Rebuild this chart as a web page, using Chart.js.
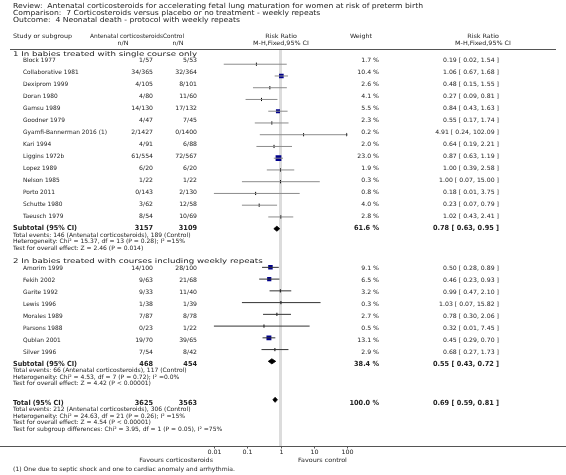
<!DOCTYPE html>
<html>
<head>
<meta charset="utf-8">
<script src="https://cdn.jsdelivr.net/npm/chart.js@4.4.0/dist/chart.umd.min.js"></script>
<style>
html, body { margin: 0; padding: 0; background: #fff; }
canvas { display: block; }
</style>
</head>
<body>
<canvas id="forest" width="566" height="475"></canvas>
<script>
// --- data ---
const g1Names = ['Block 1977', 'Collaborative 1981', 'Dexiprom 1999', 'Doran 1980', 'Gamsu 1989', 'Goodner 1979',
    'Gyamfi-Bannerman 2016 (1)', 'Kari 1994', 'Liggins 1972b', 'Lopez 1989', 'Nelson 1985', 'Porto 2011',
    'Schutte 1980', 'Taeusch 1979'];
const g1EvT = [1, 34, 4, 4, 14, 4, 2, 4, 61, 6, 1, 0, 3, 8];
const g1TotT = [57, 365, 105, 80, 130, 47, 1427, 91, 554, 20, 22, 143, 62, 54];
const g1EvC = [5, 32, 8, 11, 17, 7, 0, 6, 72, 6, 1, 2, 12, 10];
const g1TotC = [53, 364, 101, 60, 132, 45, 1400, 88, 567, 20, 22, 130, 58, 69];
const g1Weight = [1.7, 10.4, 2.6, 4.1, 5.5, 2.3, 0.2, 2.0, 23.0, 1.9, 0.3, 0.8, 4.0, 2.8];
const g1RR = [0.19, 1.06, 0.48, 0.27, 0.84, 0.55, 4.91, 0.64, 0.87, 1.00, 1.00, 0.18, 0.23, 1.02];
const g1Lo = [0.02, 0.67, 0.15, 0.09, 0.43, 0.17, 0.24, 0.19, 0.63, 0.39, 0.07, 0.01, 0.07, 0.43];
const g1Hi = [1.54, 1.68, 1.55, 0.81, 1.63, 1.74, 102.09, 2.21, 1.19, 2.58, 15.00, 3.75, 0.79, 2.41];

const g2Names = ['Amorim 1999', 'Fekih 2002', 'Garite 1992', 'Lewis 1996', 'Morales 1989', 'Parsons 1988',
    'Qublan 2001', 'Silver 1996'];
const g2EvT = [14, 9, 9, 1, 7, 0, 19, 7];
const g2TotT = [100, 63, 33, 38, 87, 23, 70, 54];
const g2EvC = [28, 21, 11, 1, 8, 1, 39, 8];
const g2TotC = [100, 68, 40, 39, 78, 22, 65, 42];
const g2Weight = [9.1, 6.5, 3.2, 0.3, 2.7, 0.5, 13.1, 2.9];
const g2RR = [0.50, 0.46, 0.99, 1.03, 0.78, 0.32, 0.45, 0.68];
const g2Lo = [0.28, 0.23, 0.47, 0.07, 0.30, 0.01, 0.29, 0.27];
const g2Hi = [0.89, 0.93, 2.10, 15.82, 2.06, 7.45, 0.70, 1.73];

// subtotal group 1, subtotal group 2, overall total
const sumTotT = [3157, 468, 3625];
const sumTotC = [3109, 454, 3563];
const sumWeight = [61.6, 38.4, 100.0];
const sumRR = [0.78, 0.55, 0.69];
const sumLo = [0.63, 0.43, 0.59];
const sumHi = [0.95, 0.72, 0.81];

const xTicks = [0.01, 0.1, 1, 10, 100];
const xTickLabels = ['0.01', '0.1', '1', '10', '100'];

const titleLines = [
    'Review:  Antenatal corticosteroids for accelerating fetal lung maturation for women at risk of preterm birth',
    'Comparison:  7 Corticosteroids versus placebo or no treatment - weekly repeats',
    'Outcome:  4 Neonatal death - protocol with weekly repeats'
];
const groupTitles = ['1 In babies treated with single course only', '2 In babies treated with courses including weekly repeats'];
const sumDetails = [
    ['Total events: 146 (Antenatal corticosteroids), 189 (Control)',
     'Heterogeneity: Chi\u00b2 = 15.37, df = 13 (P = 0.28); I\u00b2 =15%',
     'Test for overall effect: Z = 2.46 (P = 0.014)'],
    ['Total events: 66 (Antenatal corticosteroids), 117 (Control)',
     'Heterogeneity: Chi\u00b2 = 4.53, df = 7 (P = 0.72); I\u00b2 =0.0%',
     'Test for overall effect: Z = 4.42 (P < 0.00001)'],
    ['Total events: 212 (Antenatal corticosteroids), 306 (Control)',
     'Heterogeneity: Chi\u00b2 = 24.63, df = 21 (P = 0.26); I\u00b2 =15%',
     'Test for overall effect: Z = 4.54 (P < 0.00001)',
     'Test for subgroup differences: Chi\u00b2 = 3.95, df = 1 (P = 0.05), I\u00b2 =75%']
];
const sumLabels = ['Subtotal (95% CI)', 'Subtotal (95% CI)', 'Total (95% CI)'];
const footnote = '(1) One due to septic shock and one to cardiac anomaly and arrhythmia.';

// --- layout ---
const W = 566, H = 475;
const X_MIN = 0.01, X_MAX = 100;
const PLOT_L = 213.7, PLOT_R = 347.3;
const ROW = 12, LINE = 6.5;
const COL_NAME = 23, COL_LEFT = 13, COL_T = 153, COL_C = 197, COL_W = 379, COL_CI = 499;
const TEXT = '#222';
const FAMILY = '"DejaVu Sans"';

// text styles: font height plus a sample string and its width in the reference;
// glyphs get stretched sideways so the sample comes out that wide
const styles = {
    title:  { font: '7px ' + FAMILY, sample: titleLines[0], width: 410 },
    group:  { font: '6.5px ' + FAMILY, sample: groupTitles[0], width: 184 },
    head:   { font: '6px ' + FAMILY, sample: 'Study or subgroup', width: 59 },
    headT:  { font: '6px ' + FAMILY, sample: 'Antenatal corticosteroids', width: 73 },
    name:   { font: '6px ' + FAMILY, sample: 'Gyamfi-Bannerman 2016 (1)', width: 84 },
    num:    { font: '6px ' + FAMILY, sample: '0.19 [ 0.02, 1.54 ]', width: 56 },
    detail: { font: '6px ' + FAMILY, sample: sumDetails[0][1], width: 172 },
    bold:   { font: 'bold 7px ' + FAMILY, sample: 'Subtotal (95% CI)', width: 64 },
    boldN:  { font: 'bold 7px ' + FAMILY, sample: '0.78 [ 0.63, 0.95 ]', width: 66 },
    foot:   { font: '6px ' + FAMILY, sample: footnote, width: 222 }
};

// y positions of every row (top to bottom)
let cur = 54.5;
const g1HeadY = cur; cur += 6;
const g1Y = g1Names.map(() => { const y = cur; cur += ROW; return y; });
const sumY = [];
sumY.push(cur); cur += 3 * LINE + 13.5;
const g2HeadY = cur; cur += 6.5;
const g2Y = g2Names.map(() => { const y = cur; cur += ROW; return y; });
sumY.push(cur); cur += 3 * LINE + 19.8;
sumY.push(cur);
const axisY = 446;

function fmtCI(rr, lo, hi) {
    return rr.toFixed(2) + ' [ ' + lo.toFixed(2) + ', ' + hi.toFixed(2) + ' ]';
}

// --- datasets ---
const datasets = [];
function addStudies(lo, hi, rr, weight, ys, lineColor) {
    lo.forEach((l, i) => {
        const over = hi[i] > X_MAX;
        datasets.push({
            type: 'line',
            data: [{ x: l, y: ys[i] }, { x: Math.min(hi[i], X_MAX), y: ys[i] }],
            borderColor: lineColor,
            borderWidth: 1,
            pointRadius: [0, over ? 2.2 : 0],
            pointStyle: 'triangle',
            pointRotation: 90,
            pointBackgroundColor: '#333',
            pointBorderWidth: 0
        });
    });
    // big studies get a navy box, tiny ones a short black tick
    const boxes = [], boxSize = [], ticks = [];
    rr.forEach((r, i) => {
        if (weight[i] >= 5) {
            boxes.push({ x: r, y: ys[i] });
            boxSize.push((2.4 + 0.7 * Math.sqrt(weight[i])) / (2 * Math.SQRT1_2));
        } else {
            ticks.push({ x: r, y: ys[i] });
        }
    });
    datasets.push({
        type: 'scatter', data: boxes, pointStyle: 'rect', pointRadius: boxSize,
        pointBackgroundColor: '#00008b', pointBorderWidth: 0
    });
    datasets.push({
        type: 'scatter', data: ticks, pointStyle: 'line', pointRotation: 90, pointRadius: 1.6,
        pointBorderColor: '#000', pointBorderWidth: 1
    });
}
addStudies(g1Lo, g1Hi, g1RR, g1Weight, g1Y, '#8c8c8c');
addStudies(g2Lo, g2Hi, g2RR, g2Weight, g2Y, '#333');

sumRR.forEach((r, i) => {
    const y = sumY[i], h = 2.6;
    datasets.push({
        type: 'line',
        data: [{ x: sumLo[i], y }, { x: r, y: y - h }, { x: sumHi[i], y }, { x: r, y: y + h }, { x: sumLo[i], y }],
        borderColor: '#000', backgroundColor: '#000', borderWidth: 0.8,
        fill: 'shape', pointRadius: 0
    });
});

// --- text, rules and axis drawn around the plot ---
const forestText = {
    id: 'forestText',
    beforeDatasetsDraw(chart) {
        const c = chart.ctx, xs = chart.scales.x;
        c.save();
        c.strokeStyle = '#dcdcdc';
        c.lineWidth = 3;
        const x1 = xs.getPixelForValue(1);
        c.beginPath(); c.moveTo(x1, 49); c.lineTo(x1, axisY); c.stroke();
        c.restore();
    },
    afterDraw(chart) {
        const c = chart.ctx, xs = chart.scales.x;
        c.save();
        // horizontal stretch per style from its sample width
        Object.values(styles).forEach(st => {
            c.font = st.font;
            st.sx = st.width / c.measureText(st.sample).width;
        });
        c.fillStyle = TEXT;
        c.textBaseline = 'middle';
        const t = (s, x, y, align, style) => {
            const st = styles[style];
            c.save();
            c.font = st.font;
            c.textAlign = align || 'left';
            c.translate(x, y);
            c.scale(st.sx, 1);
            c.fillText(s, 0, 0);
            c.restore();
        };

        titleLines.forEach((s, i) => t(s, 13, 6 + i * 7, 'left', 'title'));

        t('Study or subgroup', COL_LEFT, 36, 'left', 'head');
        t('Antenatal corticosteroids', 163, 36, 'right', 'headT');
        t('Control', 163, 36, 'left', 'headT');
        t('n/N', 123, 43, 'center', 'head');
        t('n/N', 178, 43, 'center', 'head');
        t('Risk Ratio', 281, 36, 'center', 'head');
        t('M-H,Fixed,95% CI', 281, 43, 'center', 'head');
        t('Weight', 361, 36, 'center', 'head');
        t('Risk Ratio', 483, 36, 'center', 'head');
        t('M-H,Fixed,95% CI', 483, 43, 'center', 'head');

        c.strokeStyle = '#555';
        c.lineWidth = 1;
        c.beginPath(); c.moveTo(10, 49.5); c.lineTo(556, 49.5); c.stroke();

        const studyRows = (names, evT, totT, evC, totC, wt, rr, lo, hi, ys) => {
            names.forEach((n, i) => {
                const y = ys[i];
                t(n, COL_NAME, y, 'left', 'name');
                t(evT[i] + '/' + totT[i], COL_T, y, 'right', 'num');
                t(evC[i] + '/' + totC[i], COL_C, y, 'right', 'num');
                t(wt[i].toFixed(1) + ' %', COL_W, y, 'right', 'num');
                t(fmtCI(rr[i], lo[i], hi[i]), COL_CI, y, 'right', 'num');
            });
        };
        t(groupTitles[0], COL_LEFT, g1HeadY, 'left', 'group');
        studyRows(g1Names, g1EvT, g1TotT, g1EvC, g1TotC, g1Weight, g1RR, g1Lo, g1Hi, g1Y);
        t(groupTitles[1], COL_LEFT, g2HeadY, 'left', 'group');
        studyRows(g2Names, g2EvT, g2TotT, g2EvC, g2TotC, g2Weight, g2RR, g2Lo, g2Hi, g2Y);

        sumY.forEach((y, i) => {
            t(sumLabels[i], COL_LEFT, y, 'left', 'bold');
            t(String(sumTotT[i]), COL_T, y, 'right', 'boldN');
            t(String(sumTotC[i]), COL_C, y, 'right', 'boldN');
            t(sumWeight[i].toFixed(1) + ' %', COL_W, y, 'right', 'boldN');
            t(fmtCI(sumRR[i], sumLo[i], sumHi[i]), COL_CI, y, 'right', 'boldN');
            sumDetails[i].forEach((s, j) => t(s, COL_LEFT, y + (j + 1) * LINE, 'left', 'detail'));
        });

        // axis
        c.strokeStyle = '#555';
        c.beginPath(); c.moveTo(0, axisY + 0.5); c.lineTo(W, axisY + 0.5); c.stroke();
        xTicks.forEach((v, i) => {
            const px = Math.round(xs.getPixelForValue(v)) + 0.5;
            c.beginPath(); c.moveTo(px, axisY); c.lineTo(px, axisY + 2.5); c.stroke();
            t(xTickLabels[i], px, axisY + 6, 'center', 'head');
        });
        t('Favours corticosteroids', 213, 460, 'right', 'head');
        t('Favours control', 298, 460, 'left', 'head');
        t(footnote, COL_LEFT, 469, 'left', 'foot');
        c.restore();
    }
};

new Chart(document.getElementById('forest').getContext('2d'), {
    type: 'scatter',
    data: { datasets },
    options: {
        responsive: false,
        animation: false,
        devicePixelRatio: 1,
        layout: { padding: { left: PLOT_L, right: W - PLOT_R, top: 0, bottom: 0 } },
        scales: {
            x: { type: 'logarithmic', min: X_MIN, max: X_MAX, display: false },
            y: { type: 'linear', min: 0, max: H, reverse: true, display: false }
        },
        plugins: { legend: { display: false }, tooltip: { enabled: false } }
    },
    plugins: [forestText]
});
</script>
</body>
</html>
